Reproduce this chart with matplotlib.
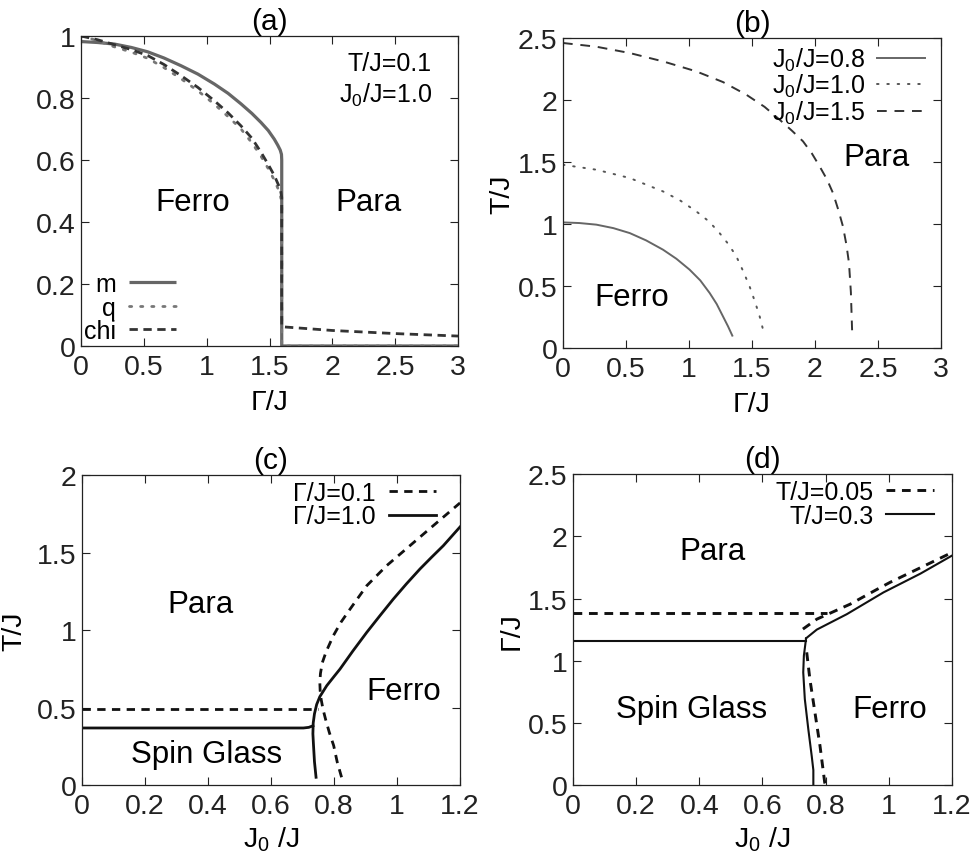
import matplotlib
matplotlib.use('Agg')
import matplotlib.pyplot as plt
from matplotlib.ticker import FuncFormatter, MultipleLocator

plt.rcParams['font.family'] = ['Liberation Sans', 'DejaVu Sans']
plt.rcParams['mathtext.fontset'] = 'custom'
plt.rcParams['mathtext.rm'] = 'Liberation Sans'
plt.rcParams['mathtext.it'] = 'Liberation Sans:italic'
plt.rcParams['mathtext.bf'] = 'Liberation Sans:bold'

# ---------------- Panel (a): order parameters vs Gamma/J ----------------
a_gamma_m = [0, 0.13, 0.265, 0.4, 0.53, 0.66, 0.796, 0.93, 1.061, 1.17, 1.273, 1.36, 1.432,
             1.49, 1.538, 1.565, 1.585, 1.595, 1.597, 1.597, 3.0]
a_m = [0.982, 0.979, 0.974, 0.963, 0.949, 0.929, 0.904, 0.877, 0.845, 0.815, 0.781, 0.75, 0.721,
       0.695, 0.667, 0.648, 0.632, 0.618, 0.60, 0.0, 0.0]
a_gamma_q = [0, 0.13, 0.265, 0.4, 0.53, 0.66, 0.796, 0.93, 1.061, 1.17, 1.273, 1.36, 1.432,
             1.49, 1.538, 1.565, 1.586, 1.597, 1.597, 3.0]
a_q = [1.0, 0.985, 0.965, 0.948, 0.928, 0.898, 0.862, 0.823, 0.78, 0.74, 0.70, 0.655, 0.612,
       0.572, 0.535, 0.51, 0.485, 0.465, 0.0, 0.0]
a_gamma_chi = [0, 0.13, 0.265, 0.4, 0.53, 0.66, 0.796, 0.93, 1.061, 1.17, 1.273, 1.36, 1.432,
               1.49, 1.538, 1.565, 1.586, 1.597, 1.597, 1.8, 2.0, 2.25, 2.5, 2.75, 3.0]
a_chi = [1.0, 0.988, 0.972, 0.956, 0.937, 0.908, 0.872, 0.834, 0.791, 0.752, 0.71, 0.67, 0.625,
         0.585, 0.55, 0.525, 0.506, 0.48, 0.062, 0.056, 0.05, 0.045, 0.04, 0.036, 0.032]

# ---------------- Panel (b): T/J vs Gamma/J phase boundaries ----------------
b_gamma_08 = [0, 0.13, 0.265, 0.4, 0.53, 0.66, 0.794, 0.9, 1.005, 1.09, 1.164, 1.22, 1.27, 1.31, 1.344]
b_T_08 = [1.013, 1.008, 0.995, 0.967, 0.927, 0.868, 0.793, 0.72, 0.632, 0.545, 0.444, 0.355,
          0.255, 0.175, 0.10]
b_gamma_10 = [0, 0.265, 0.53, 0.794, 0.93, 1.058, 1.16, 1.243, 1.315, 1.376, 1.43, 1.481, 1.525,
              1.561, 1.585, 1.595]
b_T_10 = [1.478, 1.438, 1.371, 1.263, 1.19, 1.102, 1.02, 0.927, 0.835, 0.739, 0.62, 0.497, 0.37,
          0.255, 0.16, 0.10]
b_gamma_15 = [0, 0.265, 0.53, 0.8, 1.058, 1.27, 1.455, 1.6, 1.72, 1.82, 1.905, 1.975, 2.037, 2.095,
              2.143, 2.185, 2.222, 2.25, 2.27, 2.285, 2.296]
b_T_15 = [2.46, 2.43, 2.379, 2.31, 2.231, 2.145, 2.043, 1.945, 1.841, 1.75, 1.667, 1.57, 1.465,
          1.36, 1.25, 1.115, 0.981, 0.83, 0.685, 0.45, 0.10]

# ---------------- Panel (c): T/J vs J0/J ----------------
c_J0_g01_sg = [0, 0.748]
c_T_g01_sg = [0.49, 0.49]
c_J0_g01_f = [0.824, 0.81, 0.799, 0.785, 0.773, 0.765, 0.759, 0.756, 0.755, 0.757, 0.763, 0.775,
              0.798, 0.822, 0.851, 0.904, 0.967, 1.041, 1.115, 1.2]
c_T_g01_f = [0.05, 0.15, 0.254, 0.34, 0.426, 0.49, 0.555, 0.61, 0.662, 0.72, 0.79, 0.86, 0.964,
             1.05, 1.135, 1.286, 1.415, 1.544, 1.673, 1.82]
c_J0_g10_sg = [0, 0.703, 0.72, 0.733]
c_T_g10_sg = [0.368, 0.368, 0.372, 0.382]
c_J0_g10_f = [0.743, 0.738, 0.735, 0.733, 0.734, 0.738, 0.745, 0.755, 0.777, 0.8, 0.819, 0.86,
              0.904, 0.946, 0.988, 1.03, 1.073, 1.11, 1.147, 1.2]
c_T_g10_f = [0.05, 0.15, 0.254, 0.33, 0.40, 0.46, 0.52, 0.57, 0.641, 0.70, 0.748, 0.865, 0.985,
             1.093, 1.199, 1.298, 1.394, 1.47, 1.544, 1.665]

# ---------------- Panel (d): Gamma/J vs J0/J ----------------
d_J0_t005_sg = [0, 0.804]
d_G_t005_sg = [1.386, 1.386]
d_J0_t005_pf = [0.728, 0.772, 0.878, 0.96, 1.004, 1.2]
d_G_t005_pf = [1.254, 1.334, 1.455, 1.57, 1.63, 1.87]
d_J0_t005_sf = [0.74, 0.75, 0.766, 0.782, 0.797, 0.80]
d_G_t005_sf = [1.067, 0.852, 0.584, 0.316, 0.02, 0.0]
d_J0_t03_sg = [0, 0.738]
d_G_t03_sg = [1.162, 1.162]
d_J0_t03_pf = [0.738, 0.772, 0.867, 0.983, 1.1, 1.2]
d_G_t03_pf = [1.18, 1.25, 1.374, 1.549, 1.70, 1.845]
d_J0_t03_sf = [0.738, 0.731, 0.729, 0.734, 0.745, 0.756, 0.761, 0.761]
d_G_t03_sf = [1.18, 1.04, 0.906, 0.691, 0.45, 0.23, 0.12, 0.0]

TICK = 20.5
LAB = 20.5
TTL = 21.5
REG = 22.5
LEG = 18

fig = plt.figure(figsize=(9.75, 8.54), dpi=100)
axA = fig.add_axes([0.0831, 0.5937, 0.3867, 0.363])
axB = fig.add_axes([0.5774, 0.5913, 0.3877, 0.363])
axC = fig.add_axes([0.0841, 0.0796, 0.3877, 0.363])
axD = fig.add_axes([0.5877, 0.0796, 0.3887, 0.364])

fmt = FuncFormatter(lambda v, p: '%g' % round(v, 6))


def style(ax, xlim, ylim, xstep, ystep):
    ax.set_xlim(*xlim)
    ax.set_ylim(*ylim)
    ax.xaxis.set_major_locator(MultipleLocator(xstep))
    ax.yaxis.set_major_locator(MultipleLocator(ystep))
    ax.xaxis.set_major_formatter(fmt)
    ax.yaxis.set_major_formatter(fmt)
    ax.tick_params(direction='in', top=True, right=True, length=6, width=0.8,
                   labelsize=TICK, colors='#222222')
    ax.tick_params(axis='x', pad=6)
    ax.tick_params(axis='y', pad=4)
    for s in ax.spines.values():
        s.set_linewidth(0.9)
        s.set_color('#222222')


def leg(ax, loc, anchor):
    ax.legend(loc=loc, bbox_to_anchor=anchor, markerfirst=False, frameon=False,
              fontsize=LEG, handlelength=1.9, handletextpad=0.5, labelspacing=-0.02,
              borderpad=0.05, borderaxespad=0.0)


# (a)
axA.plot(a_gamma_m, a_m, color='#666666', lw=2.3, label='m', solid_capstyle='butt')
axA.plot(a_gamma_q, a_q, color='#777777', lw=2.0, ls=(0, (0.8, 3.2)), label='q',
         dash_capstyle='round')
axA.plot(a_gamma_chi, a_chi, color='#333333', lw=2.0, ls=(0, (3, 2)), label='chi')
style(axA, (0, 3), (0, 1), 0.5, 0.2)
axA.set_title('(a)', fontsize=TTL, pad=5)
axA.set_xlabel('Γ/J', fontsize=LAB, labelpad=6)
axA.text(2.79, 0.913, 'T/J=0.1', fontsize=LEG, ha='right', va='center')
axA.text(2.79, 0.813, 'J$_\\mathrm{0}$/J=1.0', fontsize=LEG, ha='right', va='center')
axA.text(0.886, 0.464, 'Ferro', fontsize=REG, ha='center', va='center')
axA.text(2.29, 0.464, 'Para', fontsize=REG, ha='center', va='center')
leg(axA, 'lower left', (0.005, 0.005))

# (b)
axB.plot(b_gamma_08, b_T_08, color='#666666', lw=1.4, label='J$_\\mathrm{0}$/J=0.8')
axB.plot(b_gamma_10, b_T_10, color='#555555', lw=1.4, ls=(0, (0.8, 4.5)),
         dash_capstyle='round', label='J$_\\mathrm{0}$/J=1.0')
axB.plot(b_gamma_15, b_T_15, color='#333333', lw=1.4, ls=(0, (5, 4)), label='J$_\\mathrm{0}$/J=1.5')
style(axB, (0, 3), (0, 2.5), 0.5, 0.5)
axB.set_title('(b)', fontsize=TTL, pad=5)
axB.set_xlabel('Γ/J', fontsize=LAB, labelpad=6)
axB.set_ylabel('T/J', fontsize=LAB, labelpad=2)
axB.text(2.49, 1.538, 'Para', fontsize=REG, ha='center', va='center')
axB.text(0.545, 0.414, 'Ferro', fontsize=REG, ha='center', va='center')
leg(axB, 'upper right', (0.96, 0.98))

# (c)
axC.plot(c_J0_g01_sg, c_T_g01_sg, color='#111111', lw=2.0, ls=(0, (3, 2.3)), label='Γ/J=0.1')
axC.plot(c_J0_g01_f, c_T_g01_f, color='#111111', lw=2.0, ls=(0, (3, 2.3)))
axC.plot(c_J0_g10_sg, c_T_g10_sg, color='#111111', lw=2.0, label='Γ/J=1.0')
axC.plot(c_J0_g10_f, c_T_g10_f, color='#111111', lw=2.0)
style(axC, (0, 1.2), (0, 2), 0.2, 0.5)
axC.set_title('(c)', fontsize=TTL, pad=5)
axC.set_xlabel('J$_\\mathrm{0}$ /J', fontsize=LAB, labelpad=4)
axC.set_ylabel('T/J', fontsize=LAB, labelpad=7)
axC.text(0.375, 1.168, 'Para', fontsize=REG, ha='center', va='center')
axC.text(1.02, 0.608, 'Ferro', fontsize=REG, ha='center', va='center')
axC.text(0.396, 0.2, 'Spin Glass', fontsize=REG, ha='center', va='center')
leg(axC, 'upper right', (0.94, 0.985))

# (d)
axD.plot(d_J0_t005_sg, d_G_t005_sg, color='#111111', lw=2.1, ls=(0, (3, 2.3)), label='T/J=0.05')
axD.plot(d_J0_t005_pf, d_G_t005_pf, color='#111111', lw=2.1, ls=(0, (3, 2.3)))
axD.plot(d_J0_t005_sf, d_G_t005_sf, color='#111111', lw=2.1, ls=(0, (3, 2.3)))
axD.plot(d_J0_t03_sg, d_G_t03_sg, color='#111111', lw=1.5, label='T/J=0.3')
axD.plot(d_J0_t03_pf, d_G_t03_pf, color='#111111', lw=1.5)
axD.plot(d_J0_t03_sf, d_G_t03_sf, color='#111111', lw=1.5)
style(axD, (0, 1.2), (0, 2.5), 0.2, 0.5)
axD.set_title('(d)', fontsize=TTL, pad=5)
axD.set_xlabel('J$_\\mathrm{0}$ /J', fontsize=LAB, labelpad=4)
axD.set_ylabel('Γ/J', fontsize=LAB, labelpad=2)
axD.text(0.442, 1.883, 'Para', fontsize=REG, ha='center', va='center')
axD.text(0.376, 0.611, 'Spin Glass', fontsize=REG, ha='center', va='center')
axD.text(1.004, 0.611, 'Ferro', fontsize=REG, ha='center', va='center')
leg(axD, 'upper right', (0.955, 0.985))

fig.savefig('out.png', dpi=100)
